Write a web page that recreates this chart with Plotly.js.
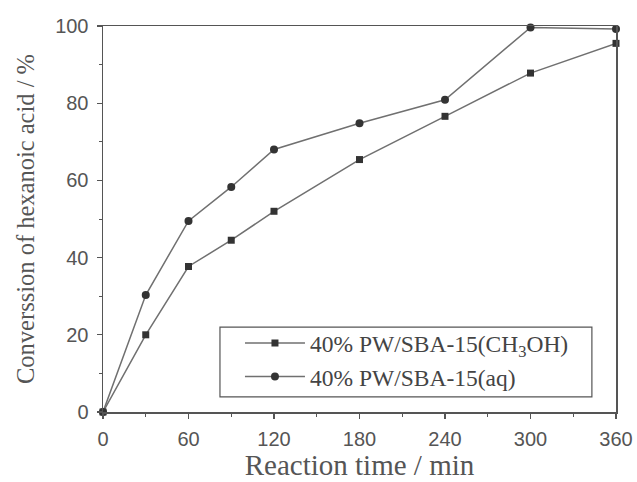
<!DOCTYPE html>
<html>
<head>
<meta charset="utf-8">
<script src="https://cdn.plot.ly/plotly-3.0.1.min.js"></script>
<style>
  html, body { margin: 0; padding: 0; background: #fff; }
  #chart { width: 637px; height: 482px; }
</style>
</head>
<body>
<div id="chart"></div>
<script>
// Reaction time (min)
const time = [0, 30, 60, 90, 120, 180, 240, 300, 360];
// Conversion of hexanoic acid (%) for the two catalysts
const convMethanol = [0, 20.0, 37.7, 44.5, 52.0, 65.4, 76.6, 87.8, 95.5];
const convAqueous  = [0, 30.3, 49.5, 58.3, 68.0, 74.8, 80.9, 99.6, 99.2];
const seriesNames = ['40% PW/SBA-15(CH<sub>3</sub>OH)', '40% PW/SBA-15(aq)'];
const xTicks = [0, 60, 120, 180, 240, 300, 360];
const yTicks = [0, 20, 40, 60, 80, 100];

const lineColor = '#707070';
const markColor = '#333333';
const textColor = '#555555';
const serif = '"Liberation Serif", "Times New Roman", serif';
const sans = '"Liberation Sans", Arial, sans-serif';

const traces = [
  {
    x: time, y: convMethanol, name: seriesNames[0],
    mode: 'lines+markers', cliponaxis: false,
    line: { color: lineColor, width: 1.5 },
    marker: { symbol: 'square', size: 7, color: markColor }
  },
  {
    x: time, y: convAqueous, name: seriesNames[1],
    mode: 'lines+markers', cliponaxis: false,
    line: { color: lineColor, width: 1.5 },
    marker: { symbol: 'circle', size: 8, color: markColor }
  }
];

const axisCommon = {
  showline: true, linecolor: '#555', linewidth: 1.5, mirror: true,
  showgrid: false, zeroline: false,
  ticks: 'outside', ticklen: 5, tickwidth: 1.2, tickcolor: '#555',
  tickfont: { family: sans, size: 20, color: textColor }
};

const layout = {
  width: 637, height: 482,
  margin: { l: 103, r: 21, t: 26, b: 70 },
  paper_bgcolor: '#fff', plot_bgcolor: '#fff',
  showlegend: true,
  legend: {
    x: 0.228, y: 0.235, xanchor: 'left', yanchor: 'top',
    borderwidth: 0, bgcolor: 'rgba(255,255,255,0)',
    font: { family: serif, size: 23.5, color: '#444' },
    itemwidth: 60, indentation: 20, tracegroupgap: 0
  },
  // frame around the legend entries
  shapes: [{
    type: 'rect', xref: 'paper', yref: 'paper',
    x0: 0.228, x1: 0.953, y0: 0.039, y1: 0.22,
    line: { color: '#555', width: 1.2 }, fillcolor: 'rgba(0,0,0,0)', layer: 'above'
  }],
  xaxis: Object.assign({}, axisCommon, {
    range: [0, 360], tickvals: xTicks, ticklabelstandoff: 3,
    minor: { dtick: 30, ticks: 'outside', ticklen: 3, tickcolor: '#555', tickwidth: 1 },
    title: { text: 'Reaction time / min', font: { family: serif, size: 29, color: textColor }, standoff: 4 }
  }),
  yaxis: Object.assign({}, axisCommon, {
    range: [0, 100], tickvals: yTicks, ticklabelstandoff: 4,
    minor: { dtick: 10, ticks: 'outside', ticklen: 3, tickcolor: '#555', tickwidth: 1 },
    title: { text: 'Converssion of hexanoic acid / %', font: { family: serif, size: 24.5, color: textColor }, standoff: 13 }
  })
};

Plotly.newPlot('chart', traces, layout, { staticPlot: true, displayModeBar: false });
</script>
</body>
</html>
